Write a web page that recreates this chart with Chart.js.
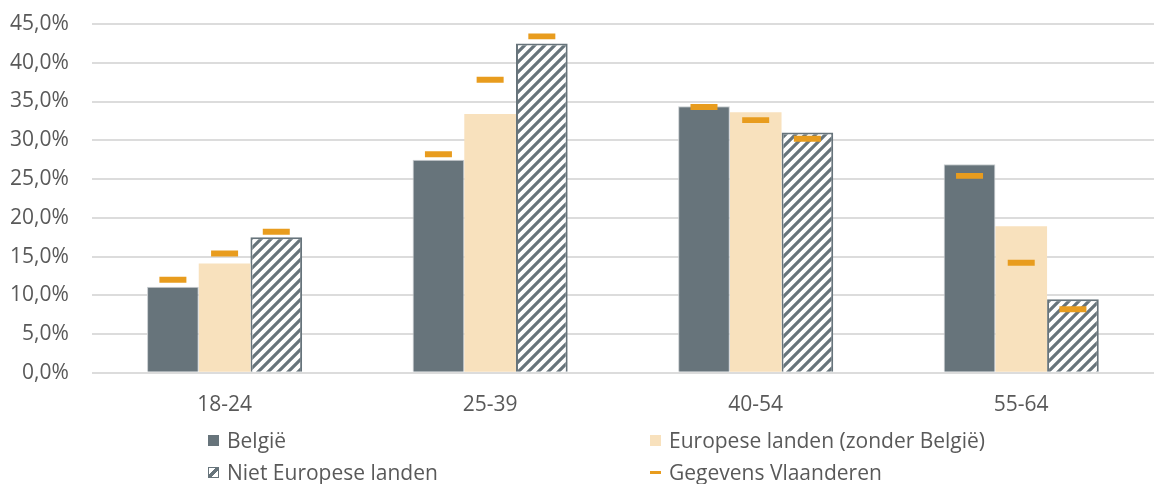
<!DOCTYPE html>
<html><head><meta charset="utf-8">
<script src="https://cdn.jsdelivr.net/npm/chart.js@4/dist/chart.umd.min.js"></script>
<style>
html,body{margin:0;padding:0;background:#fff;}
#wrap{position:relative;width:1154px;height:484px;overflow:hidden;}
canvas{position:absolute;left:0;top:0;}
.leg{position:absolute;font-family:'Open Sans',sans-serif;font-size:21px;color:#595959;white-space:nowrap;display:flex;align-items:center;height:26px;}
.sw{display:inline-block;width:11px;height:11px;margin-right:8px;box-sizing:border-box;}
</style></head><body>
<div id="wrap"><canvas id="c" width="1154" height="484"></canvas><div id="legend"></div></div>
<script>
const categories = ['18-24', '25-39', '40-54', '55-64'];
const seriesNames = ['België', 'Europese landen (zonder België)', 'Niet Europese landen', 'Gegevens Vlaanderen'];
const belgie = [11.1, 27.5, 34.4, 26.9];
const europese = [14.1, 33.4, 33.6, 18.9];
const nietEuropese = [17.5, 42.5, 31.0, 9.5];
const vlaanderenBelgie = [12.0, 28.2, 34.3, 25.4];
const vlaanderenEuropese = [15.4, 37.8, 32.6, 14.2];
const vlaanderenNiet = [18.2, 43.4, 30.2, 8.2];
const yTicks = [0, 5, 10, 15, 20, 25, 30, 35, 40, 45];

const GRAY = '#67747b';
const BEIGE = '#f8e1bd';
const ORANGE = '#e89c1e';

function makeHatch() {
  const s = 10;
  const p = document.createElement('canvas');
  p.width = s; p.height = s;
  const g = p.getContext('2d');
  g.fillStyle = '#ffffff';
  g.fillRect(0, 0, s, s);
  g.strokeStyle = GRAY;
  g.lineWidth = 3.2;
  g.beginPath();
  g.moveTo(-2, s + 2); g.lineTo(s + 2, -2);
  g.moveTo(-2, 2); g.lineTo(2, -2);
  g.moveTo(s - 2, s + 2); g.lineTo(s + 2, s - 2);
  g.stroke();
  return g.createPattern(p, 'repeat');
}
const hatch = makeHatch();

const half = 0.38;
const toMarker = arr => arr.map(v => [v - half, v + half]);

const FONT = "'Open Sans', sans-serif";
const TXT = '#595959';

const ctx = document.getElementById('c').getContext('2d');
const chart = new Chart(ctx, {
  type: 'bar',
  data: {
    labels: categories,
    datasets: [
      { label: seriesNames[3], data: toMarker(vlaanderenBelgie), stack: 'a', backgroundColor: ORANGE, maxBarThickness: 27, order: 0 },
      { label: seriesNames[3], data: toMarker(vlaanderenEuropese), stack: 'b', backgroundColor: ORANGE, maxBarThickness: 27, order: 0 },
      { label: seriesNames[3], data: toMarker(vlaanderenNiet), stack: 'c', backgroundColor: ORANGE, maxBarThickness: 27, order: 0 },
      { label: seriesNames[0], data: belgie, stack: 'a', backgroundColor: GRAY, borderColor: '#c9cdd0', borderWidth: 1, order: 1 },
      { label: seriesNames[1], data: europese, stack: 'b', backgroundColor: BEIGE, borderWidth: 0, order: 1 },
      { label: seriesNames[2], data: nietEuropese, stack: 'c', backgroundColor: hatch, borderColor: GRAY, borderWidth: 2, order: 1 }
    ]
  },
  options: {
    responsive: false,
    animation: false,
    devicePixelRatio: 1,
    datasets: { bar: { categoryPercentage: 0.584, barPercentage: 1 } },
    layout: { padding: { left: 10, right: 0, top: 24, bottom: 46 } },
    plugins: { legend: { display: false }, tooltip: { enabled: false } },
    scales: {
      x: {
        stacked: true,
        grid: { display: false, drawTicks: false },
        border: { display: false },
        ticks: { color: TXT, font: { family: FONT, size: 21 }, padding: 20 }
      },
      y: {
        stacked: false,
        min: 0, max: 45,
        afterBuildTicks: axis => { axis.ticks = yTicks.map(v => ({ value: v })); },
        grid: { color: '#dcdcdc', lineWidth: 2, drawTicks: true, tickLength: 23, tickColor: 'rgba(0,0,0,0)' },
        border: { display: false },
        ticks: {
          color: TXT, font: { family: FONT, size: 21 }, padding: 0,
          callback: v => v.toFixed(1).replace('.', ',') + '%'
        }
      }
    }
  }
});

// HTML legend in a 2x2 grid
const legend = document.getElementById('legend');
const items = [
  { name: seriesNames[0], x: 208, y: 427, style: 'background:' + GRAY },
  { name: seriesNames[1], x: 650, y: 427, style: 'background:' + BEIGE },
  { name: seriesNames[2], x: 208, y: 459, hatch: true },
  { name: seriesNames[3], x: 650, y: 459, dash: true }
];
items.forEach(it => {
  const d = document.createElement('div');
  d.className = 'leg';
  d.style.left = it.x + 'px';
  d.style.top = it.y + 'px';
  const sw = document.createElement('span');
  sw.className = 'sw';
  if (it.hatch) {
    sw.style.border = '1.5px solid ' + GRAY;
    sw.style.background = 'linear-gradient(135deg, #fff 38%, ' + GRAY + ' 38%, ' + GRAY + ' 62%, #fff 62%)';
  } else if (it.dash) {
    sw.style.height = '3px';
    sw.style.background = ORANGE;
  } else {
    sw.setAttribute('style', it.style);
  }
  const t = document.createElement('span');
  t.textContent = it.name;
  d.appendChild(sw); d.appendChild(t);
  legend.appendChild(d);
});
</script>
</body></html>
